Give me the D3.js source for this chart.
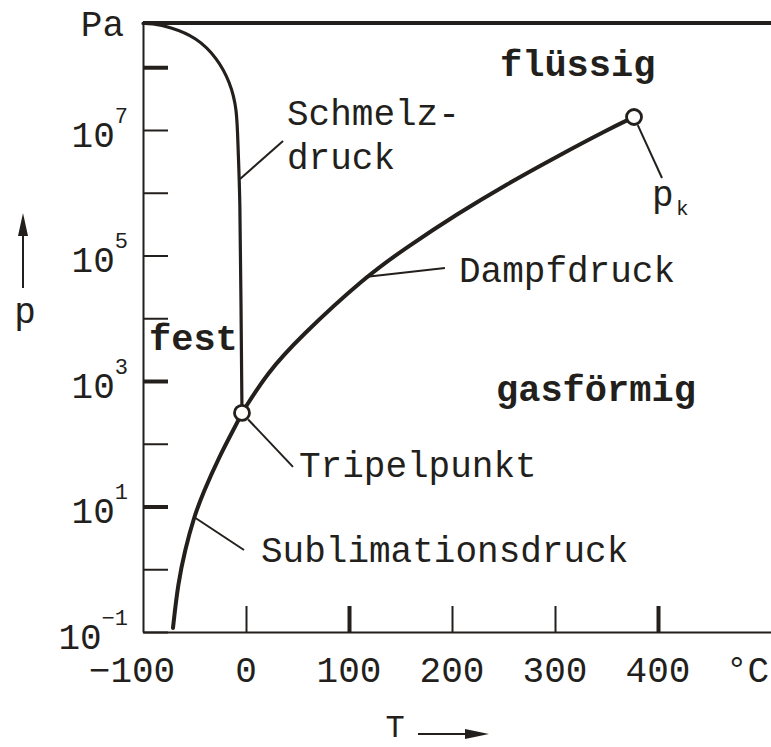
<!DOCTYPE html>
<html>
<head>
<meta charset="utf-8">
<script src="https://cdn.jsdelivr.net/npm/d3@7"></script>
<style>
  body { margin: 0; background: #fff; }
  svg { display: block; }
  text { font-family: 'Liberation Mono', 'Courier New', monospace; fill: #231f1c; }
</style>
</head>
<body>
<svg id="chart" width="771" height="747"></svg>
<script>
// values (T in °C, p in Pa)
const tempTicks = [-100, 0, 100, 200, 300, 400];
const pressureTicks = [1e-1, 1e0, 1e1, 1e2, 1e3, 1e4, 1e5, 1e6, 1e7, 1e8];
const labelExponents = [-1, 1, 3, 5, 7];

const meltT = [-100, -92, -74, -48, -28, -15.5, -8.7, -7.8, -5.8, -4.9, -3.9];
const meltP = [5.0e8, 5.0e8, 4.4e8, 3.0e8, 1.4e8, 5.8e7, 2.2e7, 5.1e6, 9.1e5, 1.95e4, 310];

const vapourT = [-3.9, 20.4, 52.4, 115.5, 156.3, 204.9, 253.4, 301.9, 350.5, 376.7];
const vapourP = [310, 1340, 5020, 45400, 1.36e5, 4.58e5, 1.38e6, 3.78e6, 1.0e7, 1.61e7];

const sublT = [-70.9, -66.0, -59.2, -50.5, -41.7, -26.2, -8.7, -3.9];
const sublP = [0.116, 0.60, 2.03, 6.8, 16.4, 61.5, 214, 310];

const tripleT = -3.9, tripleP = 310;
const criticalT = 376.7, criticalP = 1.61e7;

// which ticks are drawn heavier in the original
const boldTempTicks = [100, 400];
const boldPressureTicks = [1e1, 1e3, 1e8];

const ink = '#231f1c';
const svg = d3.select('#chart');

const x = d3.scaleLinear().domain([-100, 509.7]).range([143, 771]);
const y = d3.scaleLog().domain([1e-1, Math.pow(10, 8.705)]).range([632, 23]);

// axes
const yAxis = d3.axisLeft(y).tickValues(pressureTicks).tickSize(-25).tickSizeOuter(0).tickFormat('');
const xAxis = d3.axisBottom(x).tickValues(tempTicks).tickSize(-26).tickSizeOuter(0).tickFormat('');

const gy = svg.append('g').attr('transform', `translate(${x(-100)},0)`).call(yAxis);
const gx = svg.append('g').attr('transform', `translate(0,${y(1e-1)})`).call(xAxis);

gy.select('.domain').attr('stroke', ink).attr('stroke-width', 2);
gx.select('.domain').attr('stroke', ink).attr('stroke-width', 2);
gy.selectAll('.tick line')
    .attr('stroke', ink)
    .attr('stroke-width', d => boldPressureTicks.includes(d) ? 4 : 2);
gx.selectAll('.tick line')
    .attr('stroke', ink)
    .attr('stroke-width', d => boldTempTicks.includes(d) ? 4 : 2)
    .filter(d => d == -100).remove();

// top border line
svg.append('line')
    .attr('x1', x(-100)).attr('x2', 771)
    .attr('y1', y.range()[1]).attr('y2', y.range()[1])
    .attr('stroke', ink).attr('stroke-width', 4);

// y tick labels 10^n
labelExponents.forEach(e => {
    const t = svg.append('text')
        .attr('x', 128)
        .attr('y', y(Math.pow(10, e)) + 17)
        .attr('text-anchor', 'end')
        .attr('font-size', 36)
    t.append('tspan').text('10')
    t.append('tspan')
        .attr('font-size', 22)
        .attr('dy', -24)
        .text(e < 0 ? '\u2212' + Math.abs(e) : e)
});

svg.append('text')
    .attr('x', 124).attr('y', 36)
    .attr('text-anchor', 'end')
    .attr('font-size', 36)
    .text('Pa');

// x tick labels
svg.selectAll('.xlab')
    .data(tempTicks)
    .enter()
    .append('text')
    .attr('class', 'xlab')
    .attr('x', d => d < 0 ? x(d) - 11 : x(d))
    .attr('y', 682)
    .attr('text-anchor', 'middle')
    .attr('font-size', 36)
    .text(d => d < 0 ? '\u2212' + Math.abs(d) : d);

svg.append('text')
    .attr('x', 726).attr('y', 682)
    .attr('font-size', 36)
    .text('°C');

// axis names with arrows
svg.append('line')
    .attr('x1', 23).attr('x2', 23).attr('y1', 288).attr('y2', 232)
    .attr('stroke', ink).attr('stroke-width', 2);
svg.append('path')
    .attr('d', 'M23,213 L18,236 L28,236 Z')
    .attr('fill', ink);
svg.append('text')
    .attr('x', 25).attr('y', 323)
    .attr('text-anchor', 'middle')
    .attr('font-size', 36)
    .text('p');

svg.append('line')
    .attr('x1', 418).attr('x2', 468).attr('y1', 734).attr('y2', 734)
    .attr('stroke', ink).attr('stroke-width', 2);
svg.append('path')
    .attr('d', 'M489,734 L465,729 L465,739 Z')
    .attr('fill', ink);
svg.append('text')
    .attr('x', 395).attr('y', 737)
    .attr('text-anchor', 'middle')
    .attr('font-size', 32)
    .text('T');

// phase boundary curves
const line = d3.line()
    .x(d => x(d[0]))
    .y(d => y(d[1]))
    .curve(d3.curveBasis);

const curves = [
    { T: meltT, P: meltP, w: 3.2 },
    { T: vapourT, P: vapourP, w: 4 },
    { T: sublT, P: sublP, w: 4 }
];

svg.selectAll('.curve')
    .data(curves)
    .enter()
    .append('path')
    .attr('class', 'curve')
    .attr('d', c => line(c.T.map((t, i) => [t, c.P[i]])))
    .attr('fill', 'none')
    .attr('stroke', ink)
    .attr('stroke-width', c => c.w)
    .attr('stroke-linecap', 'round');

// leader lines: anchor on curve + offset of the free end
const leaders = [
    { T: -5.8, P: 1.66e6, dx: 43, dy: -38 },
    { T: 115.5, P: 45400, dx: 80, dy: -9 },
    { T: -50.5, P: 6.8, dx: 50, dy: 33 },
    { T: tripleT, P: tripleP, dx: 51, dy: 54, skip: 9 },
    { T: criticalT, P: criticalP, dx: 28, dy: 61, skip: 9 }
];

leaders.forEach(l => {
    const x0 = x(l.T), y0 = y(l.P);
    const len = Math.hypot(l.dx, l.dy);
    const s = (l.skip || 0) / len;
    svg.append('line')
        .attr('x1', x0 + l.dx * s).attr('y1', y0 + l.dy * s)
        .attr('x2', x0 + l.dx).attr('y2', y0 + l.dy)
        .attr('stroke', ink).attr('stroke-width', 2);
});

// triple point and critical point
svg.selectAll('.pt')
    .data([[tripleT, tripleP], [criticalT, criticalP]])
    .enter()
    .append('circle')
    .attr('class', 'pt')
    .attr('cx', d => x(d[0]))
    .attr('cy', d => y(d[1]))
    .attr('r', 7.5)
    .attr('fill', '#fff')
    .attr('stroke', ink)
    .attr('stroke-width', 2.8);

// curve labels
const labels = [
    { t: 'Schmelz-', x: 287, y: 125 },
    { t: 'druck', x: 287, y: 169 },
    { t: 'Dampfdruck', x: 459, y: 282 },
    { t: 'Tripelpunkt', x: 299, y: 477 },
    { t: 'Sublimationsdruck', x: 261, y: 562 }
];

svg.selectAll('.lab')
    .data(labels)
    .enter()
    .append('text')
    .attr('class', 'lab')
    .attr('x', d => d.x)
    .attr('y', d => d.y)
    .attr('font-size', 36)
    .text(d => d.t);

// p with subscript k
svg.append('text')
    .attr('x', 652).attr('y', 206)
    .attr('font-size', 36)
    .text('p');
svg.append('text')
    .attr('x', 676).attr('y', 215)
    .attr('font-size', 21)
    .text('k');

// phase regions
const phases = [
    { t: 'flüssig', x: 500, y: 76 },
    { t: 'fest', x: 149, y: 350 },
    { t: 'gasförmig', x: 496, y: 401 }
];

svg.selectAll('.phase')
    .data(phases)
    .enter()
    .append('text')
    .attr('class', 'phase')
    .attr('x', d => d.x)
    .attr('y', d => d.y)
    .attr('font-size', 37)
    .attr('font-weight', 'bold')
    .text(d => d.t);
</script>
</body>
</html>
